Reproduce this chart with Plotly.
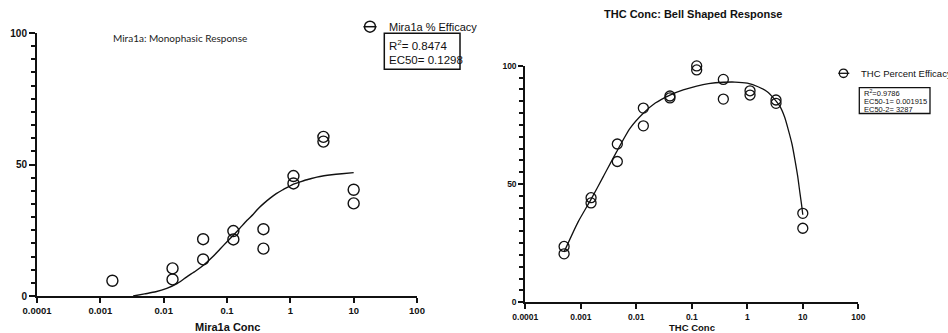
import plotly.graph_objects as go

# ---------------- data ----------------
mira_conc = [0.00155, 0.0138, 0.0138, 0.042, 0.042, 0.126, 0.126, 0.376, 0.376,
             1.12, 1.12, 3.33, 3.33, 10, 10]
mira_eff = [5.8, 10.5, 6.3, 21.6, 13.9, 24.7, 21.5, 25.4, 18.0,
            45.6, 42.8, 60.5, 58.7, 40.4, 35.2]
mira_fit_x = [0.0033, 0.005, 0.0075, 0.0112, 0.0165, 0.0232, 0.032, 0.0424, 0.06,
              0.0778, 0.1, 0.126, 0.16, 0.2055, 0.26, 0.313, 0.39, 0.48, 0.6, 0.75,
              0.93, 1.12, 1.4, 1.7, 2.1, 2.62, 3.4, 4.5, 6.5, 10]
mira_fit_y = [0.0, 0.8, 1.6, 2.9, 4.8, 7.3, 9.5, 11.7, 15.0,
              17.9, 20.6, 23.1, 25.8, 28.7, 31.1, 33.3, 35.4, 37.2, 38.9, 40.3,
              41.5, 42.5, 43.3, 44.0, 44.6, 45.2, 45.7, 46.1, 46.5, 46.9]

thc_conc = [0.0005, 0.0005, 0.00153, 0.00153, 0.00455, 0.00455, 0.0134, 0.0134,
            0.0404, 0.0404, 0.1225, 0.1225, 0.37, 0.37, 1.12, 1.12, 3.29, 3.29, 10, 10]
thc_eff = [23.6, 20.5, 44.2, 42.0, 66.9, 59.5, 82.1, 74.6,
           87.2, 86.4, 99.9, 98.2, 94.2, 85.9, 89.4, 87.6, 85.5, 84.1, 37.6, 31.3]
thc_fit_x = [0.0005, 0.0009, 0.00151, 0.00254, 0.00443, 0.0077, 0.01337, 0.022,
             0.0404, 0.07, 0.1225, 0.2, 0.37, 0.6, 1.0, 1.6, 2.29, 3.0, 3.9, 4.7, 5.5,
             6.4, 7.23, 8.1, 8.9, 9.5, 10]
thc_fit_y = [21.3, 34.1, 43.3, 53.1, 63.7, 73.5, 79.9, 84.2,
             87.6, 89.8, 91.4, 92.4, 93.0, 93.1, 92.6, 91.0, 89.0, 86.2, 82.7, 78.3, 72.8,
             66.8, 60.1, 53.2, 46.0, 41.3, 37.0]

x_tickvals = [0.0001, 0.001, 0.01, 0.1, 1, 10, 100]
x_ticktext = ["0.0001", "0.001", "0.01", "0.1", "1", "10", "100"]
y_tickvals = [0, 50, 100]
y_ticktext = ["0", "50", "100"]

# ---------------- styling helpers ----------------
W, H = 948, 333
INK = "#111111"
ARIAL = "Liberation Sans, Arial, sans-serif"


def X(px):
    return px / W


def Y(py):
    return 1 - py / H


fig = go.Figure()

fig.add_trace(go.Scatter(x=mira_fit_x, y=mira_fit_y, mode="lines", line_shape="spline",
                         line=dict(color=INK, width=1.4, smoothing=0.6), xaxis="x", yaxis="y",
                         showlegend=False, hoverinfo="skip"))
fig.add_trace(go.Scatter(x=mira_conc, y=mira_eff, mode="markers", name="Mira1a % Efficacy",
                         marker=dict(symbol="circle-open", size=11, color=INK,
                                     line=dict(width=1.4, color=INK)),
                         xaxis="x", yaxis="y", showlegend=False, cliponaxis=False))
fig.add_trace(go.Scatter(x=thc_fit_x, y=thc_fit_y, mode="lines", line_shape="spline",
                         line=dict(color=INK, width=1.3, smoothing=0.6), xaxis="x2", yaxis="y2",
                         showlegend=False, hoverinfo="skip"))
fig.add_trace(go.Scatter(x=thc_conc, y=thc_eff, mode="markers", name="THC Percent Efficacy",
                         marker=dict(symbol="circle-open", size=10, color=INK,
                                     line=dict(width=1.3, color=INK)),
                         xaxis="x2", yaxis="y2", showlegend=False, cliponaxis=False))


def xaxis(domain, anchor, fs, ticklen):
    return dict(type="log", domain=domain, anchor=anchor, range=[-4, 2],
                tickvals=x_tickvals, ticktext=x_ticktext, automargin=False,
                showline=True, linecolor=INK, linewidth=2, ticks="outside",
                ticklen=ticklen, tickwidth=2, tickcolor=INK, showgrid=False,
                zeroline=False, tickfont=dict(family=ARIAL, size=fs, color=INK, weight="bold"))


def yaxis(domain, anchor, fs, ticklen, minorlen):
    return dict(domain=domain, anchor=anchor, range=[0, 100], automargin=False,
                tickvals=y_tickvals, ticktext=y_ticktext,
                showline=True, linecolor=INK, linewidth=2, ticks="outside",
                ticklen=ticklen, tickwidth=2, tickcolor=INK, showgrid=False,
                zeroline=False, tickfont=dict(family=ARIAL, size=fs, color=INK, weight="bold"),
                minor=dict(dtick=5, tick0=0, ticks="outside", ticklen=minorlen,
                           tickwidth=2, tickcolor=INK, showgrid=False))


fig.update_layout(
    width=W, height=H, margin=dict(l=0, r=0, t=0, b=0),
    paper_bgcolor="white", plot_bgcolor="white", showlegend=False,
    xaxis=xaxis([X(37), X(417)], "y", 9.5, 5),
    yaxis=yaxis([Y(296), Y(33)], "x", 10, 6, 4),
    xaxis2=xaxis([X(525.3), X(858.3)], "y2", 8.5, 5),
    yaxis2=yaxis([Y(302.3), Y(65.7)], "x2", 8.5, 5, 4),
)

ann = []
# titles
ann.append(dict(x=X(180), y=Y(38), xref="paper", yref="paper", showarrow=False,
                text="Mira1a: Monophasic Response", xanchor="center", yanchor="middle",
                font=dict(family="Lato, Open Sans, sans-serif", size=10, color="#222222")))
ann.append(dict(x=X(692.5), y=Y(14), xref="paper", yref="paper", showarrow=False,
                text="THC Conc: Bell Shaped Response", xanchor="center", yanchor="middle",
                font=dict(family=ARIAL, size=11, color=INK, weight="bold")))
# axis titles
ann.append(dict(x=X(227), y=Y(326.5), xref="paper", yref="paper", showarrow=False,
                text="Mira1a Conc", xanchor="center", yanchor="middle",
                font=dict(family=ARIAL, size=11, color=INK, weight="bold")))
ann.append(dict(x=X(691.7), y=Y(327.5), xref="paper", yref="paper", showarrow=False,
                text="THC Conc", xanchor="center", yanchor="middle",
                font=dict(family=ARIAL, size=9.5, color=INK, weight="bold")))
# left legend + stats box
ann.append(dict(x=X(387), y=Y(26.5), xref="paper", yref="paper", showarrow=False,
                text="Mira1a % Efficacy", xanchor="left", yanchor="middle",
                font=dict(family=ARIAL, size=11, color=INK)))
ann.append(dict(x=X(386.5), y=Y(45), xref="paper", yref="paper", showarrow=False,
                text="R<sup>2</sup>= 0.8474", xanchor="left", yanchor="middle",
                font=dict(family=ARIAL, size=11.5, color=INK)))
ann.append(dict(x=X(386.5), y=Y(60), xref="paper", yref="paper", showarrow=False,
                text="EC50= 0.1298", xanchor="left", yanchor="middle",
                font=dict(family=ARIAL, size=11.5, color=INK)))
# right legend + stats box
ann.append(dict(x=X(859), y=Y(73.5), xref="paper", yref="paper", showarrow=False,
                text="THC Percent Efficacy", xanchor="left", yanchor="middle",
                font=dict(family=ARIAL, size=9.5, color=INK)))
for txt, py in [("R<sup>2</sup>=0.9786", 93.0), ("EC50-1= 0.001915", 101.2), ("EC50-2= 3287", 109.0)]:
    ann.append(dict(x=X(861.5), y=Y(py), xref="paper", yref="paper", showarrow=False,
                    text=txt, xanchor="left", yanchor="middle",
                    font=dict(family=ARIAL, size=7.5, color=INK)))
fig.update_layout(annotations=ann)

shapes = []
# left legend symbol
shapes.append(dict(type="circle", xref="paper", yref="paper",
                   x0=X(364.5), x1=X(375.5), y0=Y(32.2), y1=Y(21.2),
                   line=dict(color=INK, width=1.5)))
shapes.append(dict(type="line", xref="paper", yref="paper",
                   x0=X(363.5), x1=X(376.5), y0=Y(26.7), y1=Y(26.7),
                   line=dict(color=INK, width=1.5)))
shapes.append(dict(type="rect", xref="paper", yref="paper",
                   x0=X(384.3), x1=X(460), y0=Y(69.3), y1=Y(33.3),
                   line=dict(color=INK, width=1.5)))
# right legend symbol
shapes.append(dict(type="circle", xref="paper", yref="paper",
                   x0=X(839.3), x1=X(847.7), y0=Y(77.5), y1=Y(69.1),
                   line=dict(color=INK, width=1.3)))
shapes.append(dict(type="line", xref="paper", yref="paper",
                   x0=X(838.3), x1=X(849.3), y0=Y(73.3), y1=Y(73.3),
                   line=dict(color=INK, width=1.3)))
shapes.append(dict(type="rect", xref="paper", yref="paper",
                   x0=X(859.3), x1=X(930), y0=Y(113.5), y1=Y(87.7),
                   line=dict(color=INK, width=1.3)))
fig.update_layout(shapes=shapes)

fig.write_html("out.html", config={"displayModeBar": False},
               post_script="document.body.style.margin='0';document.body.style.overflow='hidden';")
